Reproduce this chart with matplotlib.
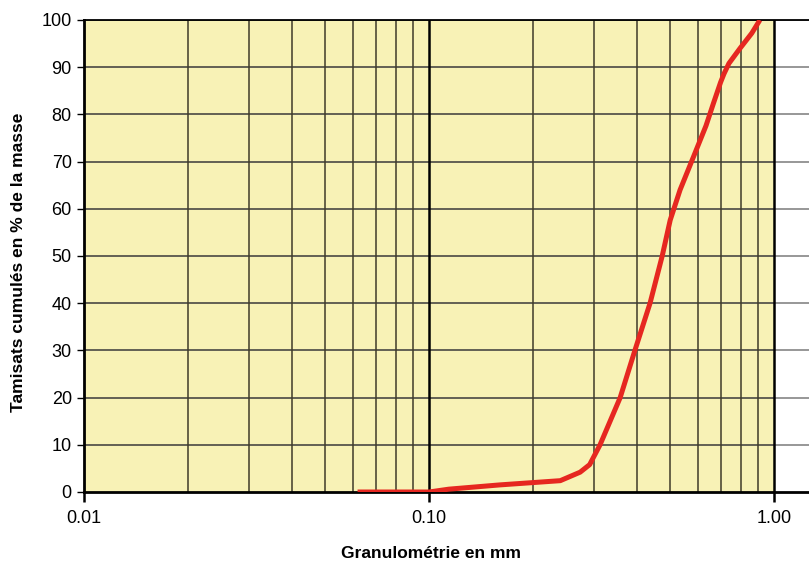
import numpy as np
import matplotlib
matplotlib.use("Agg")
import matplotlib.pyplot as plt
from matplotlib.ticker import FixedLocator, NullLocator, FixedFormatter

plt.rcParams['font.family'] = ['Liberation Sans', 'DejaVu Sans']

# Data
size_mm = [0.062, 0.10, 0.114, 0.16, 0.24, 0.274, 0.292, 0.313, 0.358, 0.395,
           0.437, 0.474, 0.50, 0.534, 0.584, 0.635, 0.667, 0.700, 0.716,
           0.740, 0.797, 0.862, 0.91]
passing = [0.0, 0.0, 0.6, 1.5, 2.4, 4.2, 5.8, 10.0, 20.0, 30.0,
           40.0, 50.0, 57.6, 64.0, 71.0, 77.6, 82.3, 86.8, 88.6,
           90.8, 94.0, 97.2, 100.0]

xticks = [0.01, 0.1, 1.0]
xticklabels = ["0.01", "0.10", "1.00"]
yticks = list(range(0, 101, 10))
minor_x = [k * 10.0**e for e in (-2, -1) for k in range(2, 10)]

W, H = 809, 563
fig = plt.figure(figsize=(W / 100, H / 100), dpi=100)
left, right, top, bottom = 84.3, 809, 20, 492
ax = fig.add_axes([left / W, 1 - bottom / H, (right - left) / W, (bottom - top) / H])

xmax = 10 ** ((809 - 774) / 345.0)
ax.set_xscale('log')
ax.set_xlim(0.01, xmax)
ax.set_ylim(0, 100)
ax.set_facecolor('white')

# yellow plot area up to 1.00
ax.axvspan(0.01, 1.0, color='#F8F2B6', zorder=0, lw=0)

# horizontal gridlines
for yv in yticks[1:]:
    ax.plot([0.01, 1.0], [yv, yv], color='#3a3a3a', lw=1.1, zorder=1)
    ax.plot([1.0, xmax], [yv, yv], color='#7a7a7a', lw=1.1, zorder=1)
# minor vertical gridlines
for xv in minor_x:
    ax.plot([xv, xv], [0, 100], color='#3f3b2a', lw=1.1, zorder=1)
# major vertical lines
for xv in [0.1, 1.0]:
    ax.plot([xv, xv], [0, 100], color='black', lw=1.8, zorder=2)

ax.plot(size_mm, passing, color='#E62720', lw=3.6, solid_capstyle='butt',
        solid_joinstyle='round', zorder=3)

ax.spines['right'].set_visible(False)
ax.spines['top'].set_color('black')
ax.spines['top'].set_linewidth(1.3)
ax.spines['left'].set_linewidth(2.0)
ax.spines['bottom'].set_linewidth(2.0)

ax.xaxis.set_major_locator(FixedLocator(xticks))
ax.xaxis.set_major_formatter(FixedFormatter(xticklabels))
ax.xaxis.set_minor_locator(NullLocator())
ax.set_yticks(yticks)
ax.tick_params(axis='x', length=7, width=1.8, pad=6, labelsize=13, direction='out')
ax.tick_params(axis='y', length=5, width=1.0, pad=4, labelsize=13, direction='out')

fig.text(19 / W, 1 - 262 / H, "Tamisats cumulés en % de la masse", rotation=90,
         ha='center', va='center', fontsize=12.5, fontweight='bold')
fig.text(431 / W, 1 - 553 / H, "Granulométrie en mm", ha='center', va='center',
         fontsize=12.5, fontweight='bold')

fig.savefig("out.png", dpi=100)
